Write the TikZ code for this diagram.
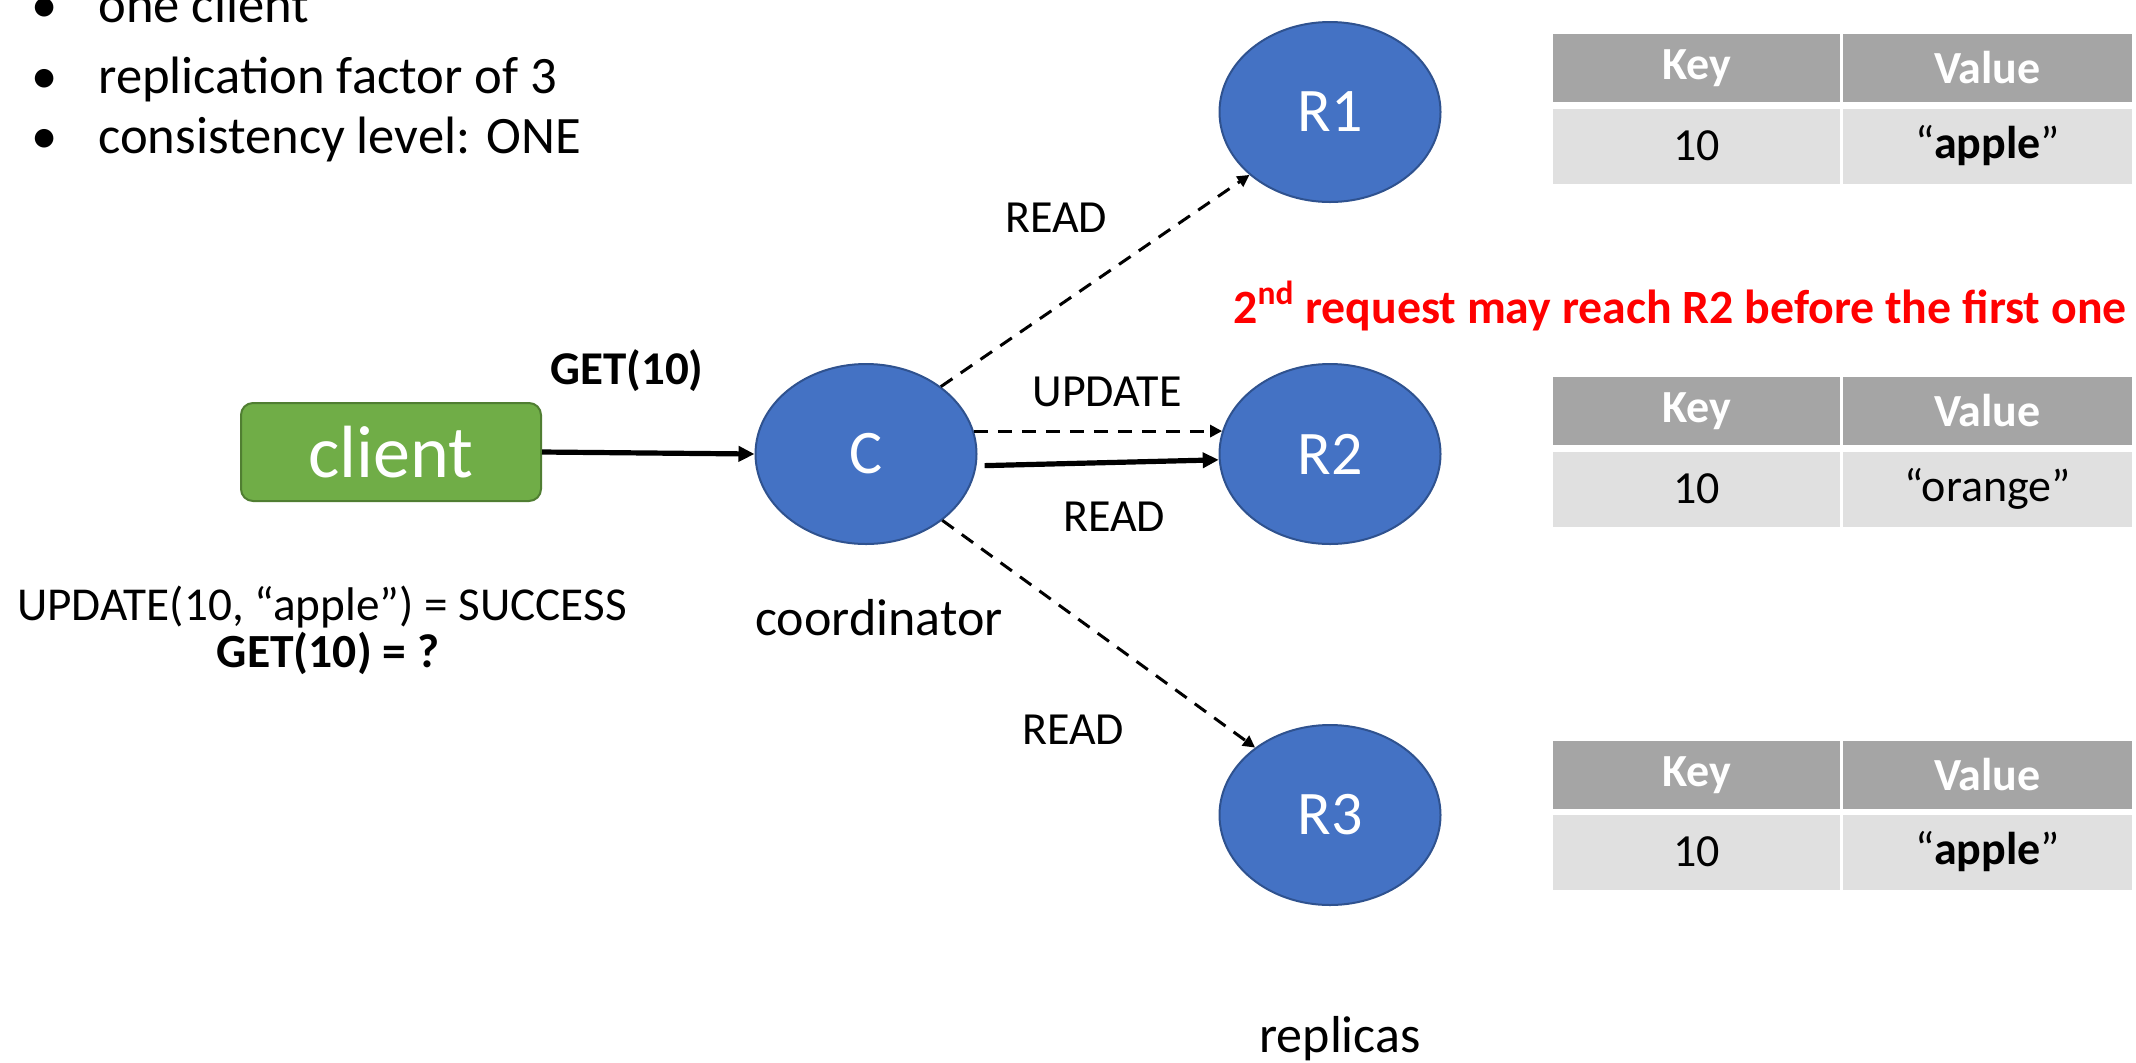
\documentclass[tikz,border=0pt]{standalone}
\usepackage{fontspec}
\setmainfont{Carlito}
\usetikzlibrary{shapes.geometric,arrows.meta}
\definecolor{nodeblue}{HTML}{4472C4}
\definecolor{nodeedge}{HTML}{2F528F}
\definecolor{cgreen}{HTML}{70AD47}
\definecolor{cgreenedge}{HTML}{507E32}
\definecolor{hdrgray}{HTML}{A5A5A5}
\definecolor{rowgray}{HTML}{E0E0E0}
\definecolor{alertred}{HTML}{FF0000}
\begin{document}
\begin{tikzpicture}[x=0.5pt,y=-0.5pt,
  replica/.style={ellipse, fill=nodeblue, draw=nodeedge, line width=1pt, minimum width=110.5pt, minimum height=90pt, text=white, font=\fontsize{31}{37}\selectfont, inner sep=0pt},
  clientbox/.style={rectangle, rounded corners=6pt, fill=cgreen, draw=cgreenedge, line width=1pt, minimum width=150pt, minimum height=49pt, text=white, font=\fontsize{37}{44}\selectfont, inner sep=0pt},
  lbl/.style={font=\fontsize{23}{28}\selectfont, inner sep=0pt, anchor=base},
  big/.style={font=\fontsize{26.3}{31}\selectfont, inner sep=0pt, anchor=base},
  hdr/.style={rectangle, fill=hdrgray, text=white, font=\fontsize{23}{28}\selectfont\bfseries, inner sep=0pt, minimum height=34pt},
  cell/.style={rectangle, fill=rowgray, font=\fontsize{23}{28}\selectfont, inner sep=0pt, minimum height=37.5pt},
  keycol/.style={minimum width=143.5pt},
  valcol/.style={minimum width=144.5pt},
  solidarrow/.style={line width=2.6pt, -{Triangle[length=8pt,width=7.5pt]}},
  dasharrow/.style={line width=1.5pt, dash pattern=on 7pt off 5pt, -{Triangle[length=6pt,width=6pt]}},
]
\useasboundingbox (0,0) rectangle (2136,1062);

% bullets
\node[big] (b1) at (45,22) {•};
\node[big, anchor=base west] (t1) at (98,22) {one client};
\node[big] (b2) at (45,93) {•};
\node[big, anchor=base west] (t2) at (98,93) {replication factor of 3};
\node[big] (b3) at (45,153) {•};
\node[big, anchor=base west] (t3) at (98,153) {consistency level: ONE};

% nodes
\node[clientbox] (client) at (391,452) {client};
\node[replica] (C) at (866,454) {C};
\node[replica] (R1) at (1330,112) {R1};
\node[replica] (R2) at (1330,454) {R2};
\node[replica] (R3) at (1330,815) {R3};

% connectors
\draw[solidarrow] (client.east) -- (C.west);
\draw[dasharrow] (C.42) -- (R1.218);
\draw[dasharrow] (C.12) -- (R2.168);
\draw[solidarrow] ([xshift=4pt]C.-6) -- (R2.183);
\draw[dasharrow] (C.-41) -- (R3.138);

% labels
\node[lbl, font=\fontsize{23.5}{28}\selectfont\bfseries] (getlbl) at (627,384) {GET(10)};
\node[lbl] (readA) at (1056,232) {READ};
\node[lbl] (upd) at (1107,406) {UPDATE};
\node[lbl] (readB) at (1114,531) {READ};
\node[lbl] (readC) at (1073,744) {READ};
\node[big, font=\fontsize{26}{31}\selectfont] (coord) at (879,635) {coordinator};
\node[big, font=\fontsize{26}{31}\selectfont] (repl) at (1340,1052) {replicas};
\node[lbl, font=\fontsize{23.6}{28}\selectfont] (hist1) at (322,620) {UPDATE(10, “apple”) = SUCCESS};
\node[lbl, font=\fontsize{23.8}{28}\selectfont\bfseries] (hist2) at (328,667) {GET(10) = ?};
\node[lbl, anchor=base west, text=alertred, font=\fontsize{23.9}{28}\selectfont\bfseries] (warn) at (1233,323) {2\textsuperscript{nd} request may reach R2 before the first one};

% table 1
\node[hdr, keycol] (k1) at (1696.5,68) {Key};
\node[hdr, valcol] (v1) at (1987.5,68) {Value};
\node[cell, keycol] (a1) at (1696.5,146) {10};
\node[cell, valcol] (c1) at (1987.5,146) {“\textbf{apple}”};
% table 2
\node[hdr, keycol] (k2) at (1696.5,411) {Key};
\node[hdr, valcol] (v2) at (1987.5,411) {Value};
\node[cell, keycol] (a2) at (1696.5,489) {10};
\node[cell, valcol] (c2) at (1987.5,489) {“orange”};
% table 3
\node[hdr, keycol] (k3) at (1696.5,775) {Key};
\node[hdr, valcol] (v3) at (1987.5,775) {Value};
\node[cell, keycol] (a3) at (1696.5,852) {10};
\node[cell, valcol] (c3) at (1987.5,852) {“\textbf{apple}”};
\end{tikzpicture}
\end{document}
